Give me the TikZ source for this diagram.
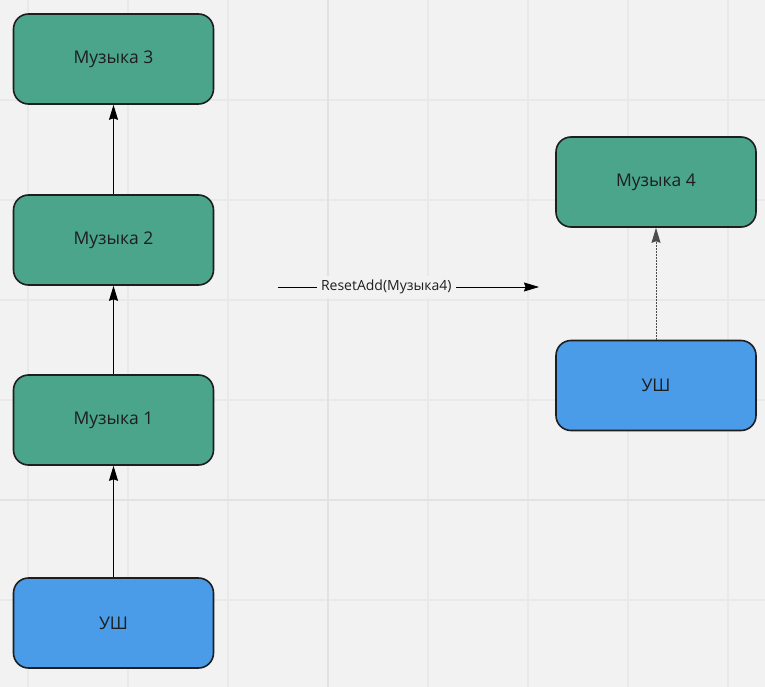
\documentclass[tikz,border=0pt]{standalone}
\usepackage{fontspec}
\setmainfont{Open Sans}
\usetikzlibrary{arrows.meta}
\definecolor{bg}{HTML}{F2F2F2}
\definecolor{gridc}{HTML}{E9E9E9}
\definecolor{gridm}{HTML}{E2E2E2}
\definecolor{musgreen}{HTML}{4AA58A}
\definecolor{ushblue}{HTML}{4A9BE8}
\definecolor{edgec}{HTML}{1E1E1E}
\tikzset{
  box/.style={draw=edgec, line width=1.6pt, rounded corners=15pt,
    minimum width=200pt, minimum height=90pt, inner sep=0pt,
    font=\fontsize{17.5}{20}\selectfont, text=edgec},
  mus/.style={box, fill=musgreen},
  ush/.style={box, fill=ushblue},
  tipst/.tip={Stealth[length=15pt,width=9pt,inset=1.5pt]},
  conn/.style={draw=black, line width=0.9pt, -tipst},
}
\begin{document}
\begin{tikzpicture}[x=1pt,y=-1pt]
\fill[bg] (0,0) rectangle (765,687);
\useasboundingbox (0,0) rectangle (765,687);
\foreach \x in {28,128,228,428,528,628,728} \draw[gridc, line width=1.2pt] (\x,0) -- (\x,687);
\foreach \y in {100,200,300,400,600} \draw[gridc, line width=1.2pt] (0,\y) -- (765,\y);
\draw[gridm, line width=1.6pt] (328,0) -- (328,687);
\draw[gridm, line width=1.6pt] (0,500) -- (765,500);

\node[mus] (m3) at (113.5,59) {Музыка 3};
\node[mus] (m2) at (113.5,240) {Музыка 2};
\node[mus] (m1) at (113.5,420) {Музыка 1};
\node[ush] (u1) at (113.5,623) {УШ};
\node[mus] (m4) at (656,182) {Музыка 4};
\node[ush] (u2) at (656,385.5) {УШ};

\draw[conn] (u1.north) -- (m1.south);
\draw[conn] (m1.north) -- (m2.south);
\draw[conn] (m2.north) -- (m3.south);
\draw[conn, draw=black!70, dash pattern=on 2pt off 1pt] (u2.north) -- (m4.south);

\coordinate (rs) at (278,287);
\coordinate (re) at (539,287);
\draw[conn, line width=0.8pt] (rs) -- node[pos=0.415, fill=bg, inner sep=4pt, font=\fontsize{14}{16}\selectfont, text=edgec] {ResetAdd(Музыка4)} (re);
\end{tikzpicture}
\end{document}
